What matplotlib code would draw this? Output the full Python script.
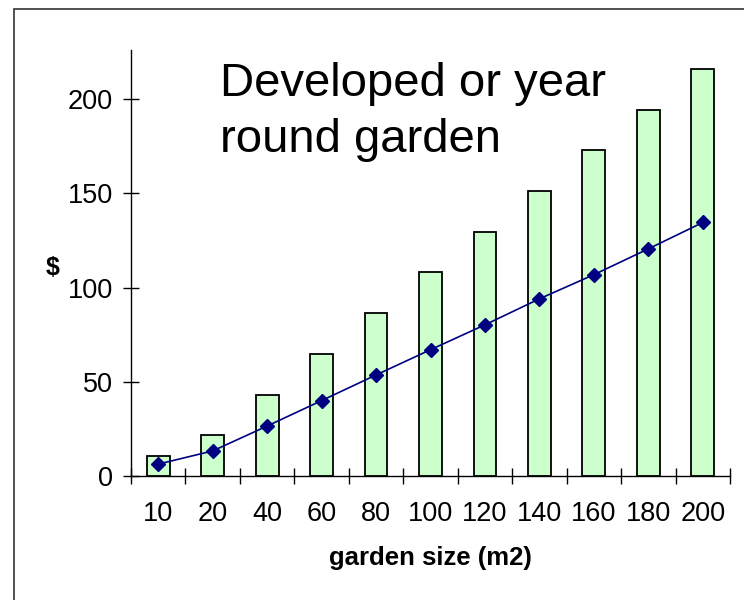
import matplotlib
matplotlib.use("Agg")
import matplotlib.pyplot as plt
import numpy as np
from matplotlib.patches import Rectangle

plt.rcParams["font.family"] = ["Liberation Sans", "DejaVu Sans"]

# garden sizes (m2) and costs ($)
sizes = ["10", "20", "40", "60", "80", "100", "120", "140", "160", "180", "200"]
bar_cost = [10.8, 21.6, 43.2, 64.8, 86.4, 108, 129.6, 151.2, 172.8, 194.4, 216]
line_cost = [6.3, 13.3, 26.5, 40.0, 53.6, 67.0, 80.2, 94.0, 106.8, 120.5, 134.5]

fig = plt.figure(figsize=(7.44, 6.0), dpi=100)
fig.patch.set_facecolor("white")

# outer chart-area frame
fig.patches.append(Rectangle((14 / 744, -0.1), 1.2, 1 - 9 / 600 + 0.1,
                             transform=fig.transFigure, fill=False,
                             edgecolor="#333333", linewidth=1.2))

ax = fig.add_axes([131 / 744, 1 - 476 / 600, (730 - 131) / 744, (476 - 50) / 600])

x = np.arange(len(sizes))
ax.bar(x, bar_cost, width=0.42, color="#CCFFCC", edgecolor="black",
       linewidth=1.3, zorder=2)
ax.plot(x, line_cost, color="#000080", linewidth=1.2, marker="D",
        markersize=7.5, zorder=3)

ax.set_xlim(-0.5, len(sizes) - 0.5)
ax.set_ylim(0, 226)
ax.set_yticks([0, 50, 100, 150, 200])
ax.set_xticks(x)
ax.set_xticklabels(sizes)
ax.set_xticks(np.arange(len(sizes) + 1) - 0.5, minor=True)

for side in ("top", "right"):
    ax.spines[side].set_visible(False)
for side in ("left", "bottom"):
    ax.spines[side].set_linewidth(1.0)

ax.tick_params(axis="y", direction="inout", length=12, width=1.0,
               labelsize=19.5, pad=7)
ax.tick_params(axis="x", which="major", length=0, labelsize=19.5, pad=18)
ax.tick_params(axis="x", which="minor", direction="inout", length=12,
               width=1.0)

ax.set_xlabel("garden size (m2)", fontsize=18.5, fontweight="bold", labelpad=14)
fig.text(53 / 744, 1 - 268 / 600, "$", fontsize=18, fontweight="bold",
         ha="center", va="center")

ax.text(0.149, 0.972, "Developed or year\nround garden", transform=ax.transAxes,
        fontsize=34, ha="left", va="top", linespacing=1.36)

fig.savefig("out.png", dpi=100)
